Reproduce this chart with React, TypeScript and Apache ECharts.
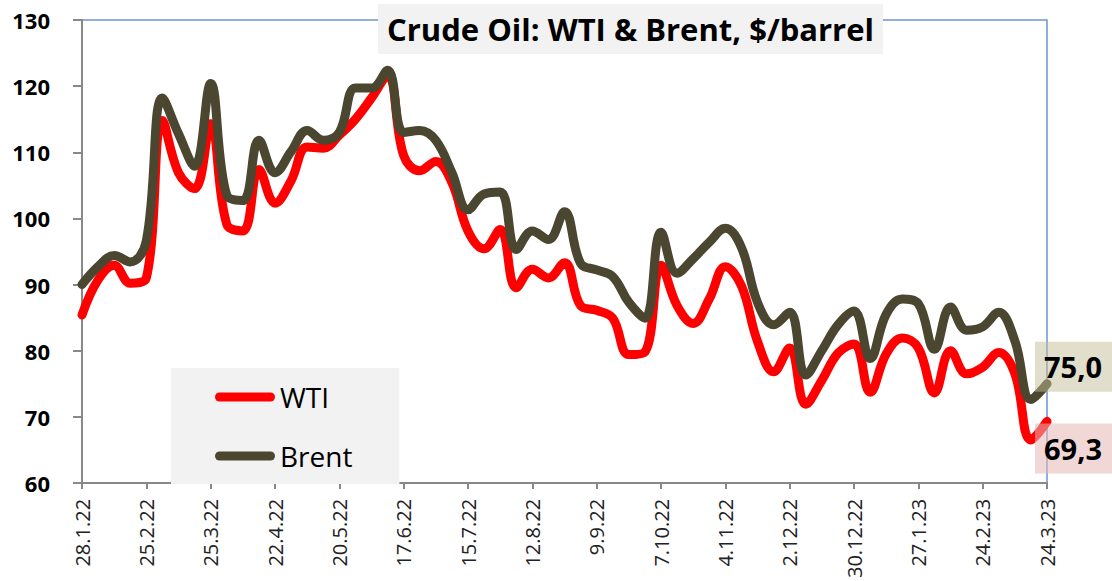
import React, { useEffect, useRef } from "react";
import * as echarts from "echarts";

const dates: string[] = [
  "28.1.22", "4.2.22", "11.2.22", "18.2.22", "25.2.22", "4.3.22", "11.3.22", "18.3.22",
  "25.3.22", "1.4.22", "8.4.22", "15.4.22", "22.4.22", "29.4.22", "6.5.22", "13.5.22",
  "20.5.22", "27.5.22", "3.6.22", "10.6.22", "17.6.22", "24.6.22", "1.7.22", "8.7.22",
  "15.7.22", "22.7.22", "29.7.22", "5.8.22", "12.8.22", "19.8.22", "26.8.22", "2.9.22",
  "9.9.22", "16.9.22", "23.9.22", "30.9.22", "7.10.22", "14.10.22", "21.10.22", "28.10.22",
  "4.11.22", "11.11.22", "18.11.22", "25.11.22", "2.12.22", "9.12.22", "16.12.22", "23.12.22",
  "30.12.22", "6.1.23", "13.1.23", "20.1.23", "27.1.23", "3.2.23", "10.2.23", "17.2.23",
  "24.2.23", "3.3.23", "10.3.23", "17.3.23", "24.3.23",
];

const wti: number[] = [
  85.4, 90.7, 92.9, 90.2, 91.0, 114.8, 106.9, 104.5, 114.3, 99.1,
  98.1, 107.4, 102.3, 105.7, 110.8, 110.6, 112.6, 115.0, 118.2, 121.6,
  109.5, 107.2, 108.6, 105.4, 98.1, 95.4, 98.3, 89.5, 92.3, 91.0,
  93.3, 86.8, 86.1, 84.9, 79.4, 79.8, 92.9, 86.8, 84.1, 87.8,
  92.7, 89.8, 81.4, 76.8, 80.4, 71.9, 75.5, 79.6, 81.0, 73.7,
  79.5, 81.9, 80.4, 73.6, 80.0, 76.5, 77.5, 79.7, 76.5, 66.5,
  69.3,
];

const brent: number[] = [
  90.0, 92.7, 94.4, 93.4, 96.6, 118.2, 112.8, 107.9, 120.4, 103.5,
  102.7, 111.8, 106.9, 110.1, 113.3, 111.8, 113.0, 119.7, 119.7, 122.4,
  113.0, 113.3, 111.8, 106.9, 101.3, 103.7, 104.0, 95.3, 98.1, 96.8,
  101.0, 93.2, 92.2, 91.2, 87.3, 84.9, 97.9, 91.7, 93.9, 96.4,
  98.5, 95.6, 87.3, 83.9, 85.8, 76.3, 80.0, 83.9, 86.0, 78.8,
  85.5, 87.8, 87.1, 80.2, 86.6, 83.1, 83.6, 85.8, 81.5, 72.6,
  75.0,
];

const titleText = "Crude Oil: WTI & Brent, $/barrel";
const seriesNames = ["WTI", "Brent"];

const FONT = "'Open Sans', 'Noto Sans', sans-serif";
const fmt = (v: number) => v.toFixed(1).replace(".", ",");
const pill = "path://M4.5,0 L55.5,0 A4.5,4.5 0 0 1 55.5,9 L4.5,9 A4.5,4.5 0 0 1 4.5,0 Z";

export default function App() {
  const ref = useRef<HTMLDivElement>(null);

  useEffect(() => {
    if (!ref.current) return;
    const chart = echarts.init(ref.current, undefined, { renderer: "svg" });
    chart.setOption({
      animation: false,
      backgroundColor: "#ffffff",
      textStyle: { fontFamily: FONT },
      title: {
        text: titleText,
        left: 378,
        top: 4,
        backgroundColor: "#F2F2F2",
        padding: [7, 9, 7, 9],
        textStyle: {
          fontFamily: FONT,
          fontSize: 31,
          fontWeight: "bold",
          color: "#000",
          lineHeight: 36,
        },
      },
      legend: {
        data: seriesNames,
        orient: "vertical",
        left: 171,
        top: 368,
        backgroundColor: "#F2F2F2",
        padding: [15, 47, 14, 44],
        itemGap: 31,
        itemWidth: 60,
        itemHeight: 9,
        icon: pill,
        textStyle: { fontFamily: FONT, fontSize: 28, color: "#000" },
      },
      grid: {
        left: 82,
        top: 20,
        right: 65,
        bottom: 85,
        show: true,
        borderColor: "#6F94D0",
        borderWidth: 1.5,
        backgroundColor: "transparent",
      },
      xAxis: {
        type: "category",
        data: dates,
        boundaryGap: false,
        axisLine: { show: true, lineStyle: { color: "#888888", width: 2 } },
        axisTick: { show: true, interval: 3, length: 6, lineStyle: { color: "#888888", width: 2 } },
        axisLabel: {
          interval: 3,
          rotate: 90,
          margin: 16,
          fontSize: 20,
          color: "#222",
          fontFamily: FONT,
        },
        splitLine: { show: false },
      },
      yAxis: {
        type: "value",
        min: 60,
        max: 130,
        interval: 10,
        axisLine: { show: true, lineStyle: { color: "#888888", width: 2 } },
        axisTick: { show: true, length: 9, lineStyle: { color: "#888888", width: 2 } },
        axisLabel: {
          margin: 32,
          fontSize: 22,
          fontWeight: "bold",
          color: "#000",
          fontFamily: FONT,
        },
        splitLine: { show: false },
      },
      series: [
        {
          name: "WTI",
          type: "line",
          data: wti,
          smooth: 0.4,
          showSymbol: false,
          symbol: "none",
          color: "#FF0000",
          lineStyle: { color: "#FF0000", width: 9, cap: "round", join: "round" },
          clip: false,
          z: 2,
          endLabel: {
            show: true,
            formatter: () => fmt(wti[wti.length - 1]),
            fontFamily: FONT,
            fontSize: 29,
            fontWeight: "bold",
            color: "#000",
            backgroundColor: "rgba(230,184,183,0.55)",
            padding: [11, 14, 10, 9],
            offset: [-20, 27],
          },
        },
        {
          name: "Brent",
          type: "line",
          data: brent,
          smooth: 0.4,
          showSymbol: false,
          symbol: "none",
          color: "#4B4630",
          lineStyle: { color: "#4B4630", width: 9, cap: "round", join: "round" },
          clip: false,
          z: 3,
          endLabel: {
            show: true,
            formatter: () => fmt(brent[brent.length - 1]),
            fontFamily: FONT,
            fontSize: 29,
            fontWeight: "bold",
            color: "#000",
            backgroundColor: "rgba(196,189,151,0.5)",
            padding: [11, 14, 10, 9],
            offset: [-20, -17],
          },
        },
      ],
    });
    return () => chart.dispose();
  }, []);

  return (
    <div
      ref={ref}
      style={{ position: "fixed", left: 0, top: 0, width: 1112, height: 581 }}
    />
  );
}
